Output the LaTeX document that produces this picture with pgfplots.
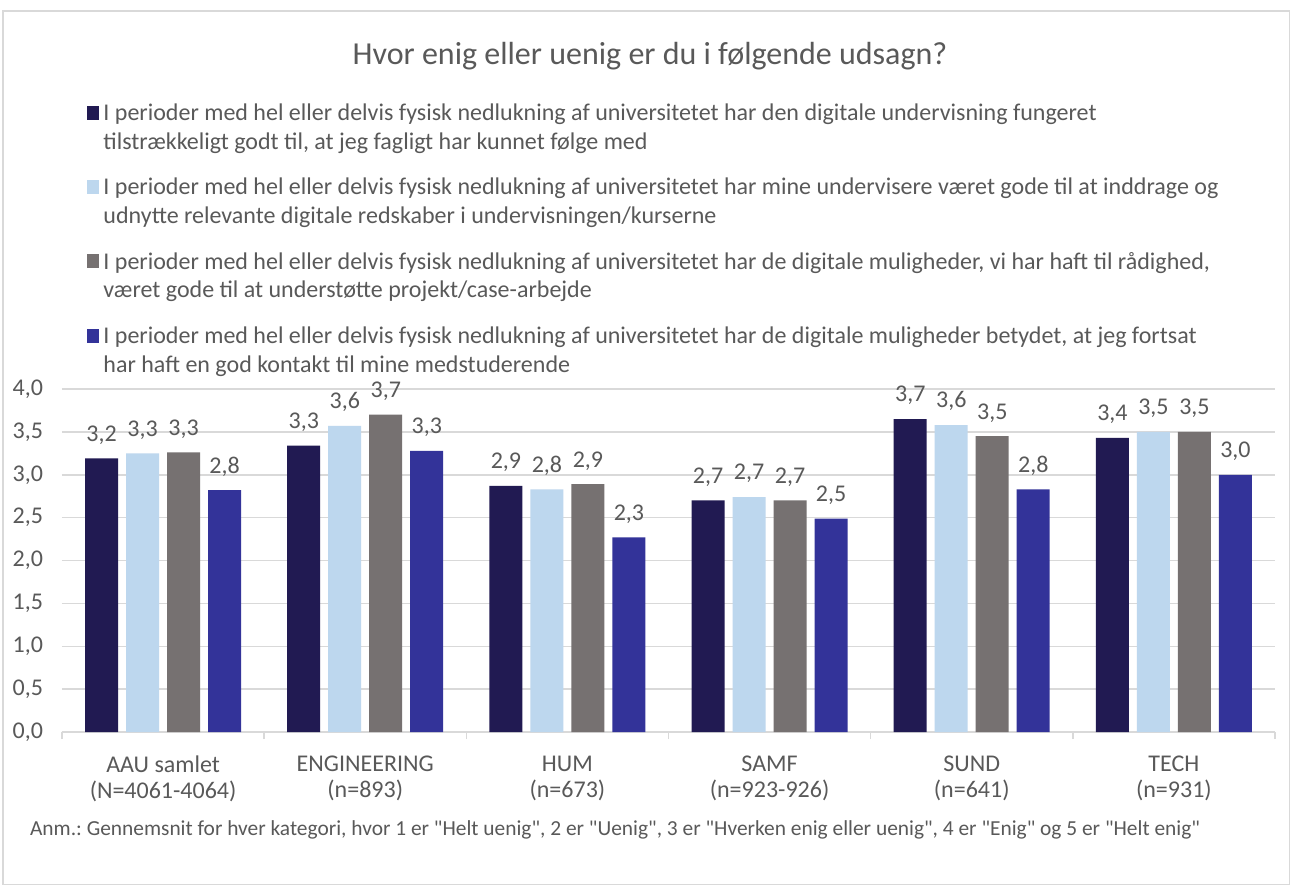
\documentclass[border=0pt]{standalone}
\usepackage{pgfplots}
\pgfplotsset{compat=1.18}
\usepackage{fontspec}
\setmainfont{Carlito}
\frenchspacing
\definecolor{cA}{RGB}{33,26,82}
\definecolor{cB}{RGB}{189,215,238}
\definecolor{cC}{RGB}{118,113,113}
\definecolor{cD}{RGB}{51,51,153}
\definecolor{txt}{RGB}{89,89,89}
\definecolor{gridc}{RGB}{217,217,217}
\begin{document}
\begin{tikzpicture}
\fill[white] (0pt,0pt) rectangle (645.5pt,-442.5pt);
\draw[gridc, line width=0.6pt] (1.5pt,-5.5pt) rectangle (644.8pt,-442.3pt);
\node[text=txt, font=\fontsize{16}{19}\selectfont] at (325pt,-28pt) {Hvor enig eller uenig er du i følgende udsagn?};
\node[text=txt, font=\fontsize{10.7}{13}\selectfont, anchor=west] at (11.5pt,-415pt) {Anm.: Gennemsnit for hver kategori, hvor 1 er \textquotedbl Helt uenig\textquotedbl, 2 er \textquotedbl Uenig\textquotedbl, 3 er \textquotedbl Hverken enig eller uenig\textquotedbl, 4 er \textquotedbl Enig\textquotedbl\ og 5 er \textquotedbl Helt enig\textquotedbl};
\begin{axis}[
  at={(31pt,-366pt)}, anchor=south west,
  scale only axis, width=606.5pt, height=171.5pt,
  ybar=4pt, bar width=16.5pt,
  xmin=-0.5, xmax=5.5, ymin=0, ymax=4,
  axis x line*=bottom, axis y line*=left,
  y axis line style={draw=none},
  x axis line style={gridc, line width=0.75pt, -},
  ytick={0,0.5,...,4},
  ymajorgrids, grid style={gridc, line width=0.75pt},
  xtick={0,...,5},
  xticklabels={{AAU samlet\\(N=4061-4064)},{ENGINEERING\\(n=893)},{HUM\\(n=673)},{SAMF\\(n=923-926)},{SUND\\(n=641)},{TECH\\(n=931)}},
  xticklabel style={align=center, text=txt, font=\fontsize{12}{12.8}\selectfont, yshift=-8.5pt},
  yticklabel style={text=txt, font=\fontsize{12}{14}\selectfont, xshift=-6pt},
  minor xtick={-0.5,0.5,...,5.5},
  major tick length=0pt, minor tick length=3.5pt, tick align=outside,
  minor tick style={gridc, line width=0.75pt},
  /pgf/number format/.cd, fixed, fixed zerofill, precision=1, use comma, assume math mode=true,
  /pgfplots/.cd,
  nodes near coords,
  every node near coord/.append style={text=txt, font=\fontsize{12}{14}\selectfont, anchor=south, yshift=3.5pt},
  legend style={at={(0.0157,1.855)}, anchor=north west, draw=none, fill=none,
    font=\fontsize{12}{14.25}\selectfont, text=txt, nodes={align=left}, row sep=9pt},
  legend cell align=left,
  legend image code/.code={\fill[#1] (0pt,4.2pt) rectangle (6pt,11.2pt);},
]
\addplot[fill=cA, draw=none] coordinates {(0,3.19) (1,3.34) (2,2.87) (3,2.70) (4,3.65) (5,3.43)};
\addplot[fill=cB, draw=none] coordinates {(0,3.25) (1,3.57) (2,2.83) (3,2.74) (4,3.58) (5,3.50)};
\addplot[fill=cC, draw=none] coordinates {(0,3.26) (1,3.70) (2,2.89) (3,2.70) (4,3.45) (5,3.50)};
\addplot[fill=cD, draw=none] coordinates {(0,2.82) (1,3.28) (2,2.27) (3,2.49) (4,2.83) (5,3.00)};
\legend{{I perioder med hel eller delvis fysisk nedlukning af universitetet har den digitale undervisning fungeret\\tilstrækkeligt godt til, at jeg fagligt har kunnet følge med},
{I perioder med hel eller delvis fysisk nedlukning af universitetet har mine undervisere været gode til at inddrage og\\udnytte relevante digitale redskaber i undervisningen/kurserne},
{I perioder med hel eller delvis fysisk nedlukning af universitetet har de digitale muligheder, vi har haft til rådighed,\\været gode til at understøtte projekt/case-arbejde},
{I perioder med hel eller delvis fysisk nedlukning af universitetet har de digitale muligheder betydet, at jeg fortsat\\har haft en god kontakt til mine medstuderende}}
\end{axis}
\end{tikzpicture}
\end{document}
